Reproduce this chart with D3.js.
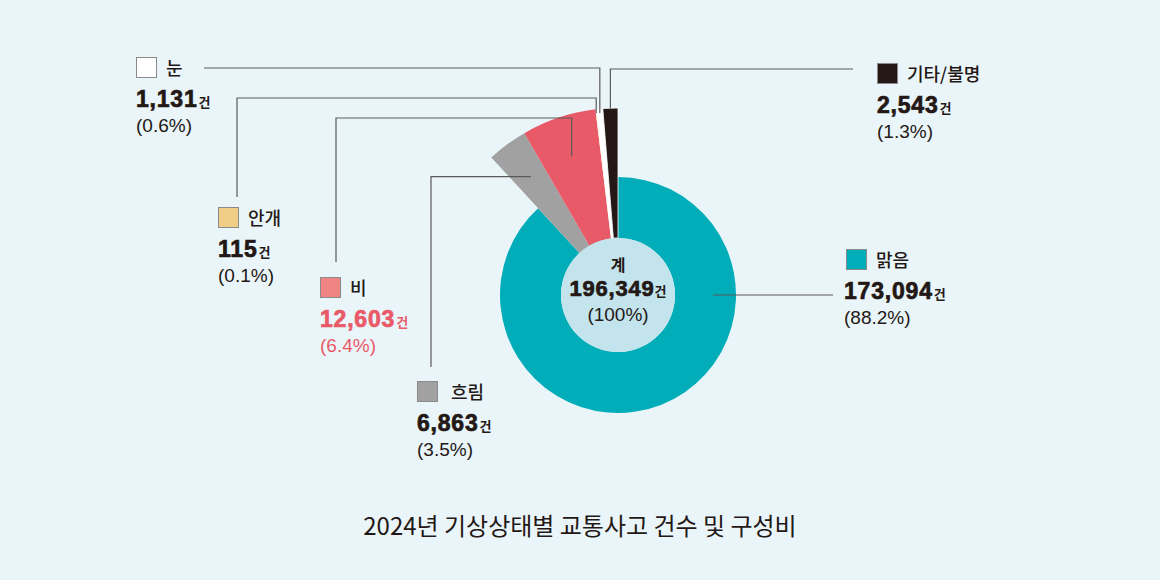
<!DOCTYPE html>
<html><head><meta charset="utf-8">
<script src="https://cdn.jsdelivr.net/npm/d3@7/dist/d3.min.js"></script>
<style>
html,body{margin:0;padding:0;background:#eaf5f9;}
svg{display:block;}
text{font-family:"Noto Sans CJK KR","Noto Sans",sans-serif;}
.num{font-family:"Liberation Sans",Arial,sans-serif;font-weight:700;}
.pct{font-family:"Liberation Sans",Arial,sans-serif;font-weight:400;}
</style></head>
<body><svg id="c" width="1160" height="580"></svg>
<script>
// ---- data ----
const categories = ['맑음','흐림','비','안개','눈','기타/불명'];
const counts     = [173094, 6863, 12603, 115, 1131, 2543];
const percents   = ['88.2%','3.5%','6.4%','0.1%','0.6%','1.3%'];
const totalCount = 196349;
const totalLabel = '계';
const totalPct   = '100%';
const unit = '건';
const title = '2024년 기상상태별 교통사고 건수 및 구성비';

// ---- styles / layout ----
const sliceColors  = ['#00adb9','#a1a1a1','#e95a69','#f2cd85','#ffffff','#231815'];
const swatchColors = ['#00adb9','#a1a1a1','#f08384','#f0cd87','#ffffff','#231815'];
const numColors    = ['#231815','#231815','#e95a69','#231815','#231815','#231815'];
const cx = 618, cy = 295, rInner = 57, rMain = 118, rOut = 187;
// label layout: swatch top-left, leader anchor radius/angle, route
const layout = {
  '맑음':     {x:846, y:249, nx:844, gap:30, ar:95,  aa:Math.PI/2, route:[['h',833]]},
  '흐림':     {x:417, y:381, nx:417, gap:34, ar:147, route:[['h',431],['v',367]]},
  '비':       {x:320, y:277, nx:320, gap:30, ar:146, route:[['v',118],['h',336],['v',262]]},
  '안개':     {x:218, y:207, nx:218, gap:30, ar:183, route:[['v',98],['h',237],['v',197]]},
  '눈':       {x:136, y:57,  nx:136, gap:30, ar:183, route:[['v',68],['h',204]]},
  '기타/불명': {x:877, y:63,  nx:877, gap:30, ar:187, route:[['v',69],['h',853]]}
};

const svg = d3.select('#c');
svg.append('rect').attr('width',1160).attr('height',580).attr('fill','#eaf5f9');

const data = categories.map((c,i)=>({cat:c, value:counts[i], pct:percents[i], i}));
const pie = d3.pie().sort(null).value(d=>d.value).startAngle(0).endAngle(2*Math.PI);
const arcs = pie(data);
const arc = d3.arc().innerRadius(rInner).outerRadius(d=>d.data.i===0?rMain:rOut);

const g = svg.append('g').attr('transform',`translate(${cx},${cy})`);
g.selectAll('path.slice').data(arcs).join('path')
  .attr('class','slice')
  .attr('d',arc)
  .attr('fill',d=>sliceColors[d.data.i])
  .attr('stroke',d=>d.data.i>=4?'#ffffff':'none')
  .attr('stroke-width',0.8);

g.append('circle').attr('r',rInner).attr('fill','#c3e4ec');

// center text
g.append('text').attr('text-anchor','middle').attr('y',-24)
  .attr('font-size',16).attr('font-weight',700).attr('fill','#231815').text(totalLabel);
const ct = g.append('text').attr('text-anchor','middle').attr('y',1).attr('fill','#231815');
ct.append('tspan').attr('class','num').attr('font-size',22).attr('letter-spacing',0.8)
  .attr('stroke','#231815').attr('stroke-width',0.7).text(d3.format(',')(totalCount));
ct.append('tspan').attr('font-size',13).attr('font-weight',700).text(unit);
g.append('text').attr('class','pct').attr('text-anchor','middle').attr('y',26)
  .attr('font-size',19).attr('fill','#231815').text('('+totalPct+')');

// leader lines
const lines = svg.append('g').attr('fill','none').attr('stroke','#5a5a5a').attr('stroke-width',1.2);
arcs.forEach(a=>{
  const L = layout[a.data.cat];
  const ang = L.aa!==undefined ? L.aa : (a.startAngle+a.endAngle)/2;
  let px = cx + L.ar*Math.sin(ang), py = cy - L.ar*Math.cos(ang);
  const pts=[[px,py]];
  L.route.forEach(([t,v])=>{ if(t==='h') px=v; else py=v; pts.push([px,py]); });
  lines.append('path').attr('d',d3.line()(pts));
});

// labels
const lab = svg.append('g');
arcs.forEach(a=>{
  const d=a.data, L=layout[d.cat];
  lab.append('rect').attr('x',L.x+0.5).attr('y',L.y+0.5).attr('width',20).attr('height',20)
    .attr('fill',swatchColors[d.i]).attr('stroke','#8a8a8a').attr('stroke-width',1);
  lab.append('text').attr('x',L.x+L.gap).attr('y',L.y+18).attr('font-size',18)
    .attr('font-weight',500).attr('fill','#231815').text(d.cat);
  const t = lab.append('text').attr('x',L.nx).attr('y',L.y+50).attr('fill',numColors[d.i]);
  t.append('tspan').attr('class','num').attr('font-size',23).attr('letter-spacing',0.8)
    .attr('stroke',numColors[d.i]).attr('stroke-width',0.7).text(d3.format(',')(d.value));
  t.append('tspan').attr('font-size',13).attr('font-weight',700).attr('dx',1).text(unit);
  lab.append('text').attr('class','pct').attr('x',L.nx).attr('y',L.y+75).attr('font-size',19)
    .attr('fill',numColors[d.i]).text('('+d.pct+')');
});

svg.append('text').attr('x',580).attr('y',535).attr('text-anchor','middle')
  .attr('font-size',24).attr('font-weight',400).attr('fill','#231815').text(title);
</script></body></html>
